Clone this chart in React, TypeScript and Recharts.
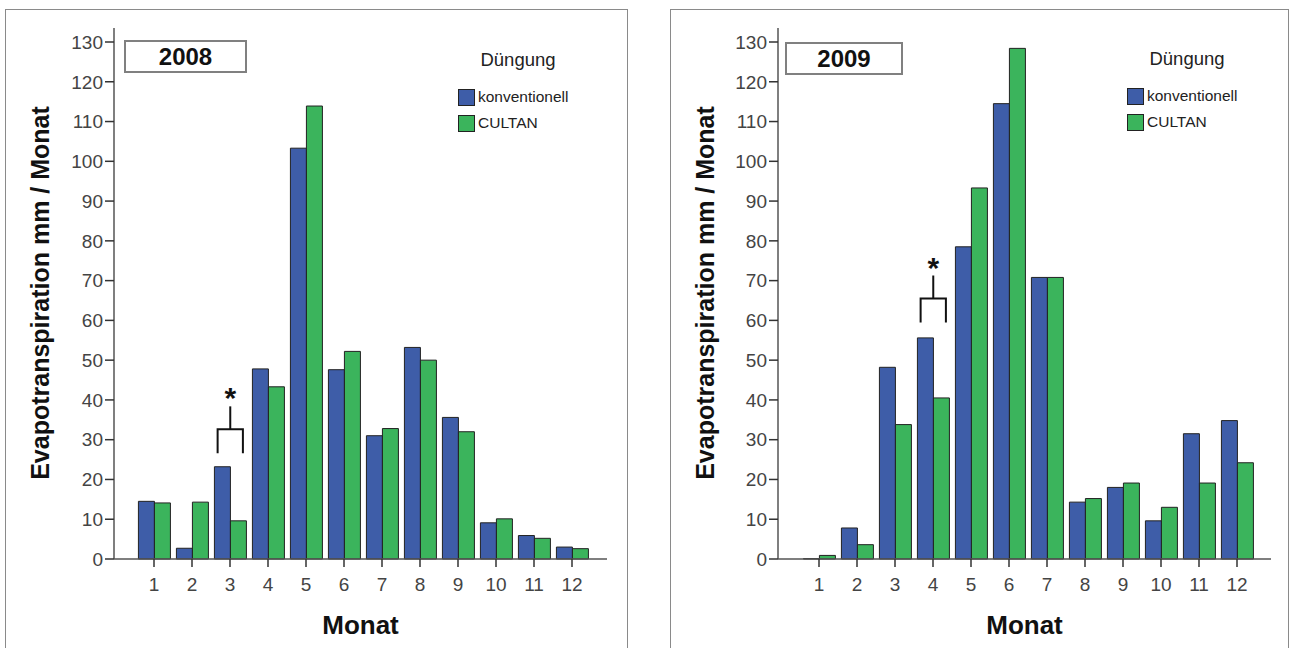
import React from "react";
import { BarChart, Bar, XAxis, YAxis } from "recharts";

const months = ["1", "2", "3", "4", "5", "6", "7", "8", "9", "10", "11", "12"];
const konv2008 = [14.5, 2.7, 23.2, 47.8, 103.3, 47.6, 31.0, 53.2, 35.6, 9.1, 5.9, 3.0];
const cultan2008 = [14.1, 14.3, 9.6, 43.3, 113.9, 52.2, 32.8, 50.0, 32.0, 10.1, 5.2, 2.6];
const konv2009 = [0.1, 7.8, 48.2, 55.6, 78.5, 114.5, 70.8, 14.3, 18.0, 9.6, 31.5, 34.8];
const cultan2009 = [0.9, 3.6, 33.8, 40.5, 93.3, 128.4, 70.8, 15.2, 19.1, 13.0, 19.1, 24.2];
const seriesNames = ["konventionell", "CULTAN"];
const seriesColors = ["#3e5da8", "#3bb45c"];
const yTicks = [0, 10, 20, 30, 40, 50, 60, 70, 80, 90, 100, 110, 120, 130];
const years = ["2008", "2009"];
const sigMonths = ["3", "4"];
const sigLevels = [32.6, 65.5];

const font = "'Liberation Sans', Arial, sans-serif";

const buildData = (konv: number[], cultan: number[]) =>
  months.map((m, i) => ({ month: m, konv: konv[i], cultan: cultan[i] }));

type PanelProps = {
  data: { month: string; konv: number; cultan: number }[];
  year: string;
  sigMonth: string;
  sigLevel: number;
  frameX: number;
  frameW: number;
  plotLeft: number;
  plotRight: number;
  padLeft: number;
  padRight: number;
  boxX: number;
  boxW: number;
  boxY: number;
  legendX: number;
  legendY: number;
};

const frameY = 9;
const chartH = 648 - frameY;
const plotTop = 28;
const plotBottom = 559;
const yAxisW = 60;
const xAxisH = 30;

const Panel = (p: PanelProps) => {
  const bracket = (props: any) => {
    const { x, y, width, height, value, index } = props;
    if (p.data[index].month !== p.sigMonth || !value) return <g key={`b${index}`} />;
    const zero = y + height;
    const ppu = height / value;
    const yh = zero - p.sigLevel * ppu;
    const x1 = x + width * 0.2;
    const x2 = x + width * 1.78;
    const xm = (x1 + x2) / 2;
    return (
      <g key={`b${index}`} stroke="#111" strokeWidth={2} fill="none">
        <path d={`M${x1},${yh + 24} L${x1},${yh} L${x2},${yh} L${x2},${yh + 24}`} />
        <line x1={xm} y1={yh} x2={xm} y2={yh - 23} />
        <text
          x={xm}
          y={yh - 21}
          textAnchor="middle"
          fontSize={30}
          fontWeight="bold"
          fontFamily={font}
          fill="#111"
          stroke="none"
        >
          *
        </text>
      </g>
    );
  };

  const plotCenter = (p.plotLeft + p.plotRight) / 2;

  return (
    <>
      <div
        style={{
          position: "absolute",
          left: p.frameX,
          top: frameY,
          width: p.frameW,
          height: 660,
          border: "1px solid #8a8a8a",
          boxSizing: "border-box",
        }}
      />
      <div style={{ position: "absolute", left: p.frameX, top: frameY }}>
        <BarChart
          width={p.frameW}
          height={chartH}
          data={p.data}
          barCategoryGap="9%"
          barGap={0}
          margin={{
            top: plotTop - frameY,
            right: p.frameX + p.frameW - p.plotRight,
            bottom: chartH - (plotBottom - frameY) - xAxisH,
            left: p.plotLeft - p.frameX - yAxisW,
          }}
        >
          <XAxis
            dataKey="month"
            height={xAxisH}
            padding={{ left: p.padLeft, right: p.padRight }}
            tickSize={8}
            tickMargin={11}
            axisLine={{ stroke: "#555", strokeWidth: 1.5 }}
            tickLine={{ stroke: "#333", strokeWidth: 1.5 }}
            tick={{ fontSize: 19, fill: "#444", fontFamily: font }}
            interval={0}
          />
          <XAxis
            xAxisId="top"
            dataKey="month"
            orientation="top"
            height={0}
            tick={false}
            tickLine={false}
            axisLine={{ stroke: "#555", strokeWidth: 1.5 }}
          />
          <YAxis
            domain={[0, 130]}
            ticks={yTicks}
            width={yAxisW}
            padding={{ top: 14 }}
            tickSize={9}
            tickMargin={2}
            axisLine={{ stroke: "#555", strokeWidth: 1.5 }}
            tickLine={{ stroke: "#333", strokeWidth: 1.5 }}
            tick={{ fontSize: 19, fill: "#444", fontFamily: font }}
            interval={0}
          />
          <YAxis
            yAxisId="r"
            orientation="right"
            domain={[0, 130]}
            width={0}
            tick={false}
            tickLine={false}
            axisLine={{ stroke: "#555", strokeWidth: 1.5 }}
          />
          <Bar
            dataKey="konv"
            name={seriesNames[0]}
            fill={seriesColors[0]}
            stroke="#222"
            strokeWidth={1}
            isAnimationActive={false}
            label={bracket}
          />
          <Bar
            dataKey="cultan"
            name={seriesNames[1]}
            fill={seriesColors[1]}
            stroke="#222"
            strokeWidth={1}
            isAnimationActive={false}
          />
        </BarChart>
      </div>
      <div
        style={{
          position: "absolute",
          left: p.boxX,
          top: p.boxY,
          width: p.boxW,
          height: 33,
          border: "2px solid #808080",
          boxSizing: "border-box",
          display: "flex",
          alignItems: "center",
          justifyContent: "center",
          fontFamily: font,
          fontWeight: "bold",
          fontSize: 24,
          color: "#111",
        }}
      >
        {p.year}
      </div>
      <div
        style={{
          position: "absolute",
          left: p.legendX,
          top: p.legendY,
          fontFamily: font,
          color: "#222",
        }}
      >
        <div style={{ fontSize: 18.5, textAlign: "center", width: 120, lineHeight: "22px" }}>
          Düngung
        </div>
        {seriesNames.map((n, i) => (
          <div
            key={n}
            style={{ display: "flex", alignItems: "center", marginTop: i === 0 ? 16 : 6, height: 20 }}
          >
            <div
              style={{
                width: 15,
                height: 15,
                background: seriesColors[i],
                border: "1px solid #222",
                marginRight: 3,
              }}
            />
            <span style={{ fontSize: 15.5 }}>{n}</span>
          </div>
        ))}
      </div>
      <div
        style={{
          position: "absolute",
          left: p.frameX + 35,
          top: 293,
          transform: "translate(-50%, -50%) rotate(-90deg)",
          whiteSpace: "nowrap",
          fontFamily: font,
          fontWeight: "bold",
          fontSize: 25,
          color: "#111",
        }}
      >
        Evapotranspiration mm / Monat
      </div>
      <div
        style={{
          position: "absolute",
          left: plotCenter,
          top: 625,
          transform: "translate(-50%, -50%)",
          whiteSpace: "nowrap",
          fontFamily: font,
          fontWeight: "bold",
          fontSize: 26,
          color: "#111",
        }}
      >
        Monat
      </div>
    </>
  );
};

export default function App() {
  return (
    <div
      style={{
        position: "absolute",
        left: 0,
        top: 0,
        width: 1290,
        height: 648,
        background: "#fff",
        overflow: "hidden",
      }}
    >
      <Panel
        data={buildData(konv2008, cultan2008)}
        year={years[0]}
        sigMonth={sigMonths[0]}
        sigLevel={sigLevels[0]}
        frameX={5}
        frameW={623}
        plotLeft={114}
        plotRight={607}
        padLeft={21}
        padRight={16}
        boxX={124}
        boxW={123}
        boxY={40}
        legendX={458}
        legendY={49}
      />
      <Panel
        data={buildData(konv2009, cultan2009)}
        year={years[1]}
        sigMonth={sigMonths[1]}
        sigLevel={sigLevels[1]}
        frameX={670}
        frameW={619}
        plotLeft={778}
        plotRight={1271}
        padLeft={22}
        padRight={15}
        boxX={785}
        boxW={118}
        boxY={42}
        legendX={1127}
        legendY={48}
      />
    </div>
  );
}
